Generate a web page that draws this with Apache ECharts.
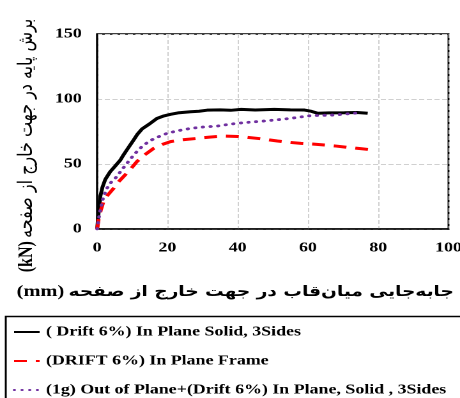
<!DOCTYPE html>
<html>
<head>
<meta charset="utf-8">
<script src="https://cdn.jsdelivr.net/npm/echarts@6/dist/echarts.min.js"></script>
<style>
  html, body { margin: 0; padding: 0; background: #fff; overflow: hidden; }
  /* the original figure is stretched horizontally, so the chart is drawn narrower and scaled */
  #main { width: 360px; height: 398px; transform: scaleX(1.27778); transform-origin: 0 0; }
</style>
</head>
<body>
<div id="main"></div>
<script>
// داده ها (mm , kN)
var solid3Sides = [[0,0],[0.4,12],[0.9,25],[1.5,32],[2.3,38],[3.7,44],[5,48],[6.6,53],[7.5,57],[8.5,61],[10.4,68.5],[11.5,73],[12.8,77],[15,81],[17,85],[19,87],[20.9,88.2],[23,89.3],[26.6,90.2],[29,90.6],[31.3,91.4],[35,91.6],[38,91.3],[41,92],[45,91.5],[50.4,92],[55,91.6],[59,91.5],[61,90.5],[62.8,89],[66,89.3],[70.4,89.4],[74,89.6],[77,89]];
var frameOnly = [[0,0],[0.4,7],[1,14],[1.8,21],[3,26],[4.7,31.3],[6,36],[7.5,40.3],[9.5,46],[11.3,51.8],[13.5,57],[16.1,62],[18.5,65],[20.9,67.2],[24,68.6],[28.5,69.7],[32,70.7],[36.1,71.5],[40,71.2],[42.8,70.5],[47,69.3],[51.3,67.7],[55,66.6],[58,65.9],[61,65.4],[64.7,64.6],[68,63.8],[71.3,62.8],[75,61.8],[78.5,60.8]];
var outOfPlane = [[0,0],[0.4,7],[0.9,14.6],[1.8,24.8],[2.8,31.3],[4,36],[5.6,40.3],[7,45.5],[8.5,50.5],[10,55.5],[11.3,59.5],[13,64],[15.1,68],[17.5,71],[19.9,73.6],[23,75.6],[26.6,77.4],[30,78.4],[34.2,79.2],[37,80.3],[39.9,81.3],[44,82.3],[48.5,83.3],[52,84.2],[55.1,85.1],[58,86.2],[60.9,87.2],[64,87.4],[67.5,87.7],[71,88.5],[75.1,89.5]];

var seriesNames = ['( Drift 6%) In Plane Solid, 3Sides', '(DRIFT 6%) In Plane Frame', '(1g) Out of Plane+(Drift 6%) In Plane, Solid , 3Sides'];
var xTicks = [0, 100, 20];   // min, max, interval
var yTicks = [0, 150, 50];
var xUnit = '(mm)';
var xTitle = 'متوسط جابه‌جایی میان‌قاب در جهت خارج از صفحه';
var yUnit = '(kN)';
var yTitle = 'برش پایه در جهت خارج از صفحه';

var serifFont = '"Liberation Serif", "Times New Roman", serif';
var arabicFont = '"DejaVu Sans", sans-serif';

var myChart = echarts.init(document.getElementById('main'), null, { devicePixelRatio: 2 });

// هر سطر راهنما یک legend جداگانه
var legendTops = [325, 354, 383];
var legends = seriesNames.map(function (name, i) {
  return {
    orient: 'horizontal',
    left: 10, top: legendTops[i],
    padding: 0,
    itemWidth: 20, itemHeight: 12,
    itemStyle: { opacity: 0 },
    textStyle: { fontFamily: serifFont, fontWeight: 'bold', fontSize: 14, color: '#000' },
    data: [name]
  };
});

var option = {
  animation: false,
  backgroundColor: '#fff',
  grid: {
    left: 76, right: 9, top: 34, bottom: 169,
    outerBoundsMode: 'none',
    show: true, borderColor: '#000', borderWidth: 1.5
  },
  // کادر راهنما
  graphic: [{
    type: 'rect', left: 2, top: 314,
    shape: { width: 420, height: 120 },
    style: { fill: 'none', stroke: '#000', lineWidth: 1.5 },
    z: 0
  }],
  legend: legends,
  xAxis: {
    type: 'value',
    min: xTicks[0], max: xTicks[1], interval: xTicks[2],
    name: '{u|' + xUnit + '} {t|' + xTitle + '}',
    nameLocation: 'middle', nameGap: 55,
    nameTextStyle: {
      rich: {
        u: { fontFamily: serifFont, fontWeight: 'bold', fontSize: 16, color: '#000' },
        t: { fontFamily: arabicFont, fontWeight: 'bold', fontSize: 14.5, color: '#000' }
      }
    },
    axisLine: { lineStyle: { color: '#000', width: 1.5 } },
    axisTick: { show: false },
    axisLabel: { fontFamily: serifFont, fontWeight: 'bold', fontSize: 14, color: '#000', margin: 12 },
    splitLine: { show: true, lineStyle: { type: 'dashed', color: '#d0d0d0' } }
  },
  yAxis: {
    type: 'value',
    min: yTicks[0], max: yTicks[1], interval: yTicks[2],
    name: '{u|' + yUnit + '} {t|' + yTitle + '}',
    nameLocation: 'middle', nameGap: 47, nameRotate: 90,
    nameTextStyle: {
      padding: [0, 28, 0, 0],
      rich: {
        u: { fontFamily: serifFont, fontWeight: 'bold', fontSize: 16, color: '#000' },
        t: { fontFamily: arabicFont, fontSize: 16, color: '#000' }
      }
    },
    axisLine: { lineStyle: { color: '#000', width: 1.5 } },
    axisTick: { show: false },
    axisLabel: { fontFamily: serifFont, fontWeight: 'bold', fontSize: 14, color: '#000', margin: 12 },
    splitLine: { show: true, lineStyle: { type: 'dashed', color: '#d0d0d0' } }
  },
  series: [
    {
      name: seriesNames[0], type: 'line', data: solid3Sides,
      showSymbol: false, symbol: 'none',
      lineStyle: { color: '#000', width: 3 }, itemStyle: { color: '#000' }
    },
    {
      name: seriesNames[1], type: 'line', data: frameOnly,
      showSymbol: false, symbol: 'none',
      lineStyle: { color: '#ff0000', width: 3, type: [10, 7] }, itemStyle: { color: '#ff0000' }
    },
    {
      name: seriesNames[2], type: 'line', data: outOfPlane,
      showSymbol: false, symbol: 'none',
      lineStyle: { color: '#7030a0', width: 2.8, type: [0.5, 5.5], cap: 'round' }, itemStyle: { color: '#7030a0' }
    }
  ]
};

myChart.setOption(option);
</script>
</body>
</html>
